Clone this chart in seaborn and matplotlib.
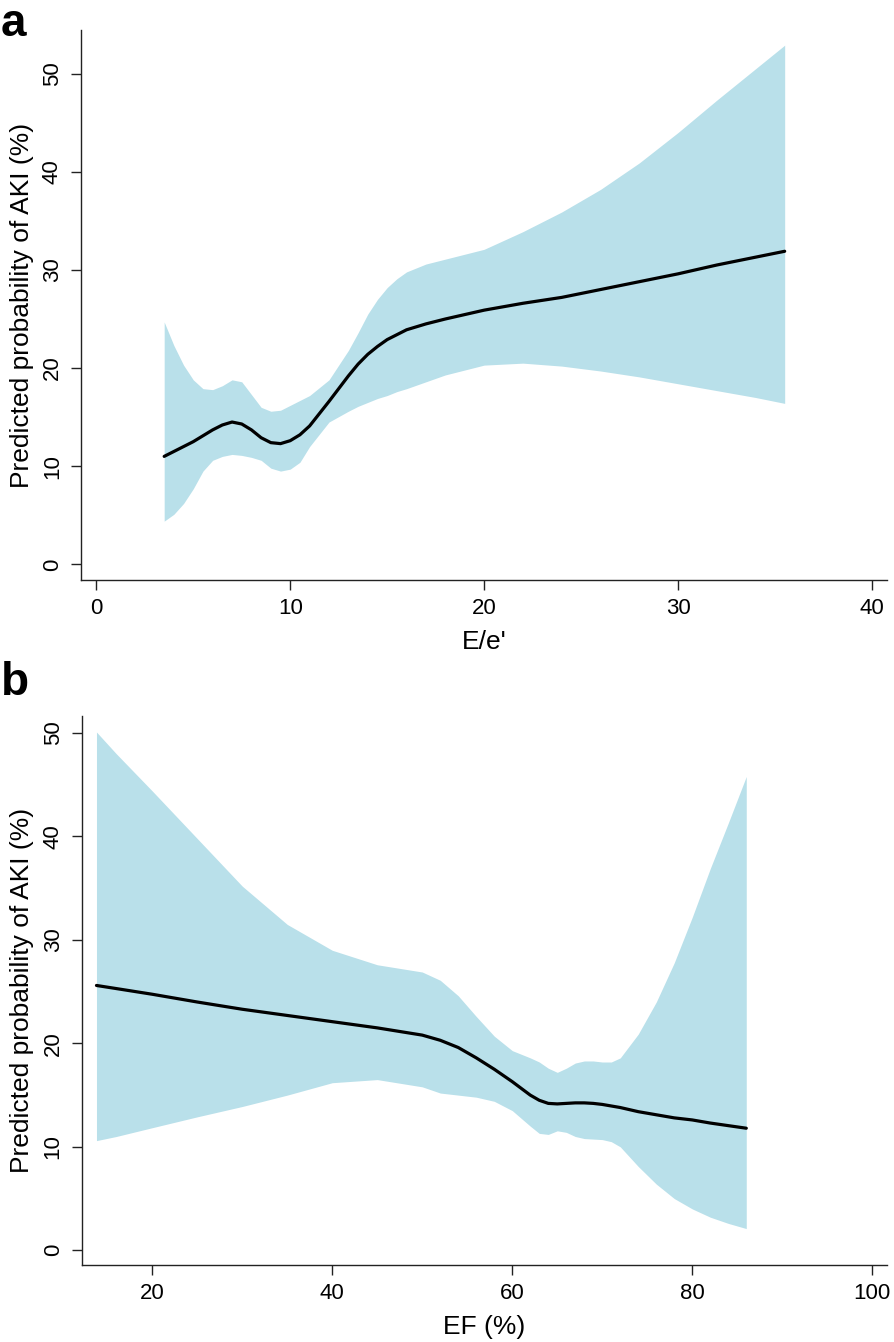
import numpy as np
import pandas as pd
import matplotlib
matplotlib.use('Agg')
import matplotlib.pyplot as plt
import seaborn as sns

sns.set_style('ticks')
plt.rcParams['font.family'] = ['Liberation Sans', 'DejaVu Sans']
plt.rcParams['text.color'] = 'black'
plt.rcParams['axes.labelcolor'] = 'black'
plt.rcParams['xtick.color'] = 'black'
plt.rcParams['ytick.color'] = 'black'

# panel a: E/e'
ee_x = [3.5, 4.0, 4.5, 5.0, 5.5, 6.0, 6.5, 7.0, 7.5, 8.0, 8.5, 9.0, 9.5, 10.0, 10.5, 11,
        12, 13, 13.5, 14, 14.5, 15, 15.5, 16, 17, 18, 20, 22, 24, 26, 28, 30, 32, 34, 35.5]
ee_fit = [11.0, 11.5, 12.0, 12.5, 13.1, 13.7, 14.2, 14.5, 14.3, 13.7, 12.9, 12.4, 12.3,
          12.6, 13.2, 14.1, 16.6, 19.2, 20.4, 21.4, 22.2, 22.9, 23.4, 23.9, 24.5, 25.0,
          25.9, 26.6, 27.2, 28.0, 28.8, 29.6, 30.5, 31.3, 31.9]
ee_hi = [24.7, 22.3, 20.3, 18.8, 17.9, 17.8, 18.2, 18.8, 18.6, 17.3, 16.0, 15.6, 15.7,
         16.2, 16.7, 17.2, 18.8, 21.8, 23.6, 25.5, 27.0, 28.2, 29.1, 29.8, 30.6, 31.1,
         32.1, 33.9, 35.9, 38.2, 40.9, 44.0, 47.3, 50.5, 52.9]
ee_lo = [4.4, 5.1, 6.2, 7.7, 9.5, 10.6, 11.0, 11.2, 11.1, 10.9, 10.6, 9.8, 9.5, 9.7,
         10.4, 12.0, 14.5, 15.6, 16.1, 16.5, 16.9, 17.2, 17.6, 17.9, 18.6, 19.3, 20.3,
         20.5, 20.2, 19.7, 19.1, 18.4, 17.7, 17.0, 16.4]

# panel b: EF (%)
ef_x = [13.8, 16, 20, 25, 30, 35, 40, 45, 50, 52, 54, 56, 58, 60, 62, 63, 64, 65, 66,
        67, 68, 69, 70, 71, 72, 74, 76, 78, 80, 82, 84, 86]
ef_fit = [25.6, 25.3, 24.75, 24.0, 23.3, 22.7, 22.1, 21.5, 20.8, 20.3, 19.6, 18.6, 17.5,
          16.3, 15.0, 14.5, 14.2, 14.15, 14.2, 14.25, 14.25, 14.2, 14.1, 13.95, 13.8,
          13.4, 13.1, 12.8, 12.6, 12.3, 12.05, 11.8]
ef_hi = [50.1, 48.0, 44.4, 39.8, 35.2, 31.5, 29.0, 27.6, 26.9, 26.1, 24.6, 22.6, 20.7,
         19.3, 18.6, 18.2, 17.6, 17.2, 17.6, 18.1, 18.3, 18.3, 18.2, 18.2, 18.6, 20.9,
         24.0, 27.8, 32.2, 36.9, 41.3, 45.8]
ef_lo = [10.6, 11.0, 11.85, 12.9, 13.9, 15.0, 16.2, 16.5, 15.8, 15.2, 15.0, 14.8, 14.4,
         13.5, 12.0, 11.3, 11.2, 11.55, 11.4, 11.0, 10.8, 10.75, 10.7, 10.5, 10.0, 8.1,
         6.4, 5.0, 4.0, 3.2, 2.6, 2.1]

band_color = '#b9e0ea'
ylab = 'Predicted probability of AKI (%)'

fig = plt.figure(figsize=(8.94, 13.42), dpi=100)
ax_a = fig.add_axes([0.0906, 0.5680, 0.9012, 0.4093])
ax_b = fig.add_axes([0.0914, 0.0577, 0.9004, 0.4084])

panels = [
    (ax_a, ee_x, ee_fit, ee_lo, ee_hi, "E/e'", (-0.79, 40.76), (-1.57, 54.4),
     [0, 10, 20, 30, 40]),
    (ax_b, ef_x, ef_fit, ef_lo, ef_hi, 'EF (%)', (12.16, 101.6), (-1.38, 51.6),
     [20, 40, 60, 80, 100]),
]

for ax, x, fit, lo, hi, xlab, xlim, ylim, xt in panels:
    df = pd.DataFrame({'x': x, 'fit': fit, 'lo': lo, 'hi': hi})
    ax.fill_between(df['x'], df['lo'], df['hi'], color=band_color, linewidth=0)
    sns.lineplot(data=df, x='x', y='fit', ax=ax, color='black', linewidth=2.3)
    ax.set_xlim(*xlim)
    ax.set_ylim(*ylim)
    ax.set_xticks(xt)
    ax.set_yticks([0, 10, 20, 30, 40, 50])
    ax.set_xlabel(xlab, fontsize=19, labelpad=8)
    ax.set_ylabel(ylab, fontsize=19, labelpad=6)
    ax.tick_params(axis='both', labelsize=16, length=7, width=1.0, pad=6,
                   color='#222222')
    for lbl in ax.get_yticklabels():
        lbl.set_rotation(90)
        lbl.set_va('center')
    for side in ['top', 'right']:
        ax.spines[side].set_visible(False)
    for side in ['left', 'bottom']:
        ax.spines[side].set_linewidth(1.0)
        ax.spines[side].set_color('#222222')

fig.text(0.001, 0.9985, 'a', fontsize=33, fontweight='bold', va='top', ha='left')
fig.text(0.001, 0.5075, 'b', fontsize=33, fontweight='bold', va='top', ha='left')

fig.savefig('out.png', dpi=100)
